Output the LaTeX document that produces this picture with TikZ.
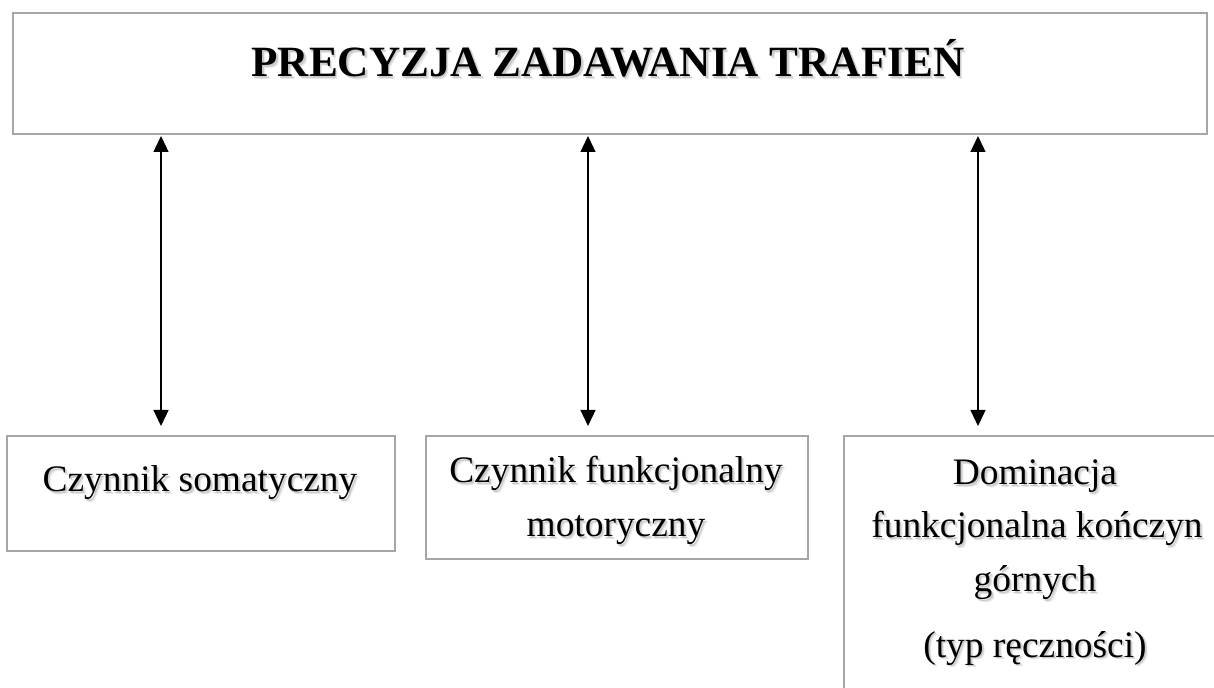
\documentclass[tikz,border=0pt]{standalone}
\usepackage{fontspec}
\setmainfont{Liberation Serif}
\usetikzlibrary{arrows.meta}
\definecolor{boxgray}{RGB}{166,166,166}
\newcommand\shtx[1]{\leavevmode\rlap{\kern1.4pt\raisebox{-1.4pt}{\textcolor{black!9}{#1}}}\rlap{\kern0.8pt\raisebox{-0.8pt}{\textcolor{black!20}{#1}}}#1}
\tikzset{
  box/.style={draw=boxgray, line width=1pt, rectangle, inner sep=0pt, fill=white},
  txt/.style={anchor=base, inner sep=0pt, font=\fontsize{18.7pt}{22pt}\selectfont},
  ttl/.style={anchor=base, inner sep=0pt, font=\fontsize{21.6pt}{25pt}\selectfont\bfseries},
  link/.style={line width=0.65pt, {Triangle[length=8pt,width=7.5pt]}-{Triangle[length=8pt,width=7.5pt]}}
}
\begin{document}
\begin{tikzpicture}[x=0.5pt,y=-0.5pt]
\useasboundingbox (0,0) rectangle (1214,688);
\clip (0,0) rectangle (1214,688);
% boxes
\node[box, minimum width=597pt, minimum height=60.5pt] (top) at (610,73.5) {};
\node[box, minimum width=194pt, minimum height=57.5pt] (b1) at (201,493.5) {};
\node[box, minimum width=191pt, minimum height=61.5pt] (b2) at (617,497.5) {};
\node[box, minimum width=191pt, minimum height=142pt] (b3) at (1035,578) {};
% texts
\node[ttl] (title) at (608,77) {\shtx{PRECYZJA ZADAWANIA TRAFIEŃ}};
\node[txt] (t1) at (200,492) {\shtx{Czynnik somatyczny}};
\node[txt] (t2a) at (616,483) {\shtx{Czynnik funkcjonalny}};
\node[txt] (t2b) at (616,537) {\shtx{motoryczny}};
\node[txt] (t3a) at (1035,485) {\shtx{Dominacja}};
\node[txt] (t3b) at (1037,538) {\shtx{funkcjonalna kończyn}};
\node[txt] (t3c) at (1035,592) {\shtx{górnych}};
\node[txt] (t3d) at (1035,657) {\shtx{(typ ręczności)}};
% arrow end points
\coordinate (e1) at (161,426);
\coordinate (e2) at (588,426);
\coordinate (e3) at (978,426);
\draw[link] ([yshift=-0.5pt]top.south -| e1) -- (e1);
\draw[link] ([yshift=-0.5pt]top.south -| e2) -- (e2);
\draw[link] ([yshift=-0.5pt]top.south -| e3) -- (e3);
\end{tikzpicture}
\end{document}
